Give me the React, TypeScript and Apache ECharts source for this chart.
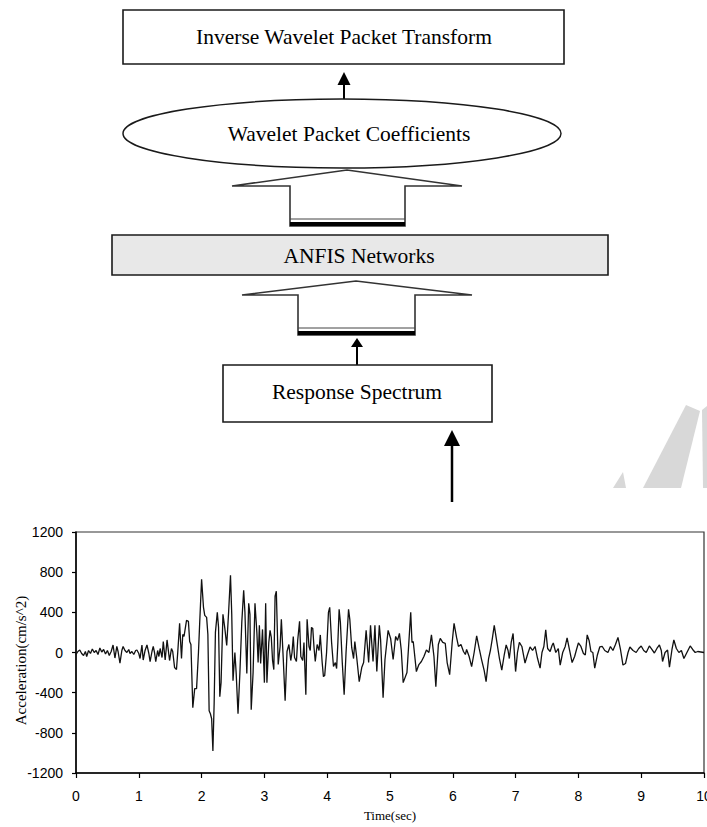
import React, { useEffect, useRef } from "react";
import * as echarts from "echarts";

// ---- Data (time in sec, acceleration in cm/s^2) ----
const preEventRecord: [number, number][] = [
  [0.0, -20], [0.03, 10], [0.06, 25], [0.09, -10], [0.12, -30], [0.15, 10], [0.17, -40],
  [0.2, 20], [0.23, -10], [0.26, 35], [0.29, 0], [0.32, 20], [0.35, -20], [0.38, 45],
  [0.41, 5], [0.44, 30], [0.47, -15], [0.5, 20], [0.53, -30], [0.56, 10], [0.59, 75],
  [0.62, -55], [0.65, 60], [0.67, 10], [0.7, -105], [0.73, 20], [0.75, 60], [0.78, 20],
  [0.81, 0], [0.84, 30], [0.86, -10], [0.89, 10], [0.92, -20], [0.95, 20], [0.97, 25],
  [1.0, -10], [1.02, -60], [1.05, 75], [1.07, -75], [1.1, 20], [1.13, 75], [1.16, -10],
  [1.18, -90], [1.21, 10], [1.23, 60], [1.25, 0], [1.27, -90], [1.3, 20], [1.32, -40],
  [1.34, 40], [1.37, -50], [1.39, 110], [1.42, -75], [1.45, 125], [1.49, -80], [1.52, 40],
  [1.54, 10], [1.57, -150], [1.6, -170], [1.62, 0],
];

const strongMotionRecord: [number, number][] = [
  [1.65, 290], [1.68, -60], [1.7, 180], [1.72, 160], [1.76, 320], [1.79, 310], [1.81, 110],
  [1.83, 80], [1.86, -550], [1.89, -360], [1.92, -360], [1.95, 0], [1.97, 300], [2.0, 730],
  [2.03, 450], [2.05, 370], [2.08, 350], [2.1, 180], [2.12, -580], [2.14, -610], [2.16, -660],
  [2.18, -980], [2.2, -500], [2.22, 200], [2.25, 400], [2.27, 250], [2.29, -440], [2.31, -300],
  [2.34, 380], [2.37, 240], [2.4, 70], [2.43, 400], [2.46, 770], [2.48, 380], [2.5, -280],
  [2.53, 0], [2.55, -200], [2.58, -610], [2.61, -200], [2.64, 300], [2.67, 620], [2.69, 400],
  [2.72, -210], [2.75, 490], [2.77, 380], [2.79, -570], [2.82, -200], [2.85, 490], [2.88, 200],
  [2.9, -100], [2.92, 270], [2.94, -110], [2.97, 230], [3.0, -300], [3.02, 490], [3.04, -300],
  [3.07, 100], [3.09, 220], [3.11, 150], [3.13, -80], [3.15, -170], [3.17, 560], [3.19, 610],
  [3.22, -120], [3.25, 60], [3.27, 330], [3.3, -60], [3.33, -480], [3.36, 10], [3.39, 80],
  [3.42, -80], [3.44, 0], [3.46, 160], [3.48, -50], [3.51, -90], [3.53, 120], [3.56, 310],
  [3.58, -40], [3.61, -80], [3.63, 100], [3.66, -420], [3.68, 330], [3.71, 60], [3.73, 20],
  [3.75, 250], [3.77, 240], [3.79, 50], [3.81, -90], [3.84, 80], [3.87, 20], [3.89, 175],
  [3.92, -100], [3.94, -240], [3.96, -230], [3.99, 0], [4.02, 400], [4.04, 450], [4.07, 100],
  [4.1, -140], [4.13, -100], [4.15, -160], [4.17, 100], [4.19, 430], [4.21, 300], [4.24, -100],
  [4.27, -420], [4.3, 0], [4.34, 430], [4.36, 330], [4.39, 50], [4.42, -60], [4.44, 110],
  [4.47, -50], [4.51, -290], [4.55, -150], [4.58, -100], [4.62, 220], [4.66, -100], [4.69, 270],
  [4.73, -90], [4.76, 270], [4.79, -190], [4.83, 270], [4.85, 130], [4.89, -450], [4.92, -70],
  [4.97, 220],
];

const codaRecord: [number, number][] = [
  [5.01, 140], [5.05, -70], [5.09, 160], [5.12, 120], [5.15, 190], [5.18, 20], [5.21, -300],
  [5.27, -200], [5.3, 100], [5.33, 400], [5.35, 100], [5.37, 110], [5.42, -190], [5.46, -120],
  [5.5, -90], [5.54, -40], [5.58, 25], [5.62, 0], [5.66, 175], [5.7, -40], [5.73, -340],
  [5.77, 80], [5.8, 140], [5.84, 100], [5.88, 90], [5.91, -100], [5.95, -220], [5.99, 100],
  [6.02, 290], [6.06, 150], [6.09, 60], [6.13, 80], [6.17, 10], [6.2, -20], [6.22, 30],
  [6.26, -40], [6.3, -140], [6.34, 0], [6.38, 165], [6.42, 40], [6.46, -75], [6.5, -180],
  [6.53, -290], [6.57, -60], [6.6, 25], [6.63, 140], [6.66, 270], [6.7, 110], [6.74, -50],
  [6.78, -175], [6.82, -20], [6.85, 75], [6.88, 20], [6.9, -60], [6.93, 100], [6.96, 190],
  [7.0, -190], [7.03, 0], [7.06, 100], [7.1, 60], [7.15, -105], [7.19, -20], [7.23, 55],
  [7.27, 20], [7.31, 60], [7.35, -60], [7.39, -155], [7.42, 0], [7.45, 60], [7.48, 225],
  [7.51, 40], [7.55, 10], [7.58, 70], [7.6, 95], [7.64, 0], [7.68, 40], [7.71, -125],
  [7.75, 0], [7.79, 60], [7.82, 145], [7.86, 20], [7.9, -100], [7.94, -40], [7.97, 30],
  [8.0, 95], [8.04, 60], [8.08, -10], [8.11, -25], [8.14, 175], [8.17, 120], [8.2, 10],
  [8.23, 0], [8.26, -155], [8.3, -30], [8.34, 55], [8.38, 60], [8.42, 20], [8.47, 0],
  [8.51, 60], [8.55, 20], [8.59, 80], [8.63, 150], [8.67, 30], [8.71, -125], [8.75, -110],
  [8.79, 0], [8.82, 55], [8.87, 20], [8.92, 0], [8.96, 40], [9.0, 65], [9.04, 20], [9.08, 0],
  [9.13, 65], [9.17, 30], [9.21, -5], [9.25, 40], [9.29, 75], [9.32, 20], [9.34, -90],
  [9.38, 0], [9.42, 25], [9.45, -145], [9.49, 30], [9.52, 125], [9.56, 40], [9.6, 0],
  [9.64, 20], [9.68, -60], [9.72, -10], [9.78, 65], [9.82, 30], [9.86, 0], [9.9, 10],
  [9.95, 5], [10.0, 0],
];

const xAxisTitle = "Time(sec)";
const yAxisTitle = "Acceleration(cm/s^2)";
const diagramLabels = [
  "Inverse Wavelet Packet Transform",
  "Wavelet Packet Coefficients",
  "ANFIS Networks",
  "Response Spectrum",
];

const SERIF = '"Liberation Serif", "Times New Roman", serif';
const SANS = '"Liberation Sans", Arial, sans-serif';
const STROKE = "#1a1a1a";

function label(text: string, x: number, y: number) {
  return {
    type: "text",
    x,
    y,
    z: 10,
    style: {
      text,
      fill: "#000",
      fontSize: 21.5,
      fontFamily: SERIF,
      align: "center",
      verticalAlign: "middle",
    },
  };
}

function arrowHead(x: number, tipY: number, baseY: number, half: number) {
  return {
    type: "polygon",
    z: 10,
    shape: { points: [[x, tipY], [x + half, baseY], [x - half, baseY]] },
    style: { fill: "#000" },
  };
}

function shaft(x: number, y1: number, y2: number, w: number) {
  return {
    type: "line",
    z: 10,
    shape: { x1: x, y1, x2: x, y2 },
    style: { stroke: "#000", lineWidth: w },
  };
}

function blockArrow(
  apexX: number, apexY: number, wingL: number, wingR: number, wingY: number,
  stemL: number, stemR: number, thinY: number, barY: number
) {
  return [
    {
      type: "polygon",
      z: 10,
      shape: {
        points: [
          [wingL, wingY], [apexX, apexY], [wingR, wingY], [stemR, wingY],
          [stemR, barY + 4], [stemL, barY + 4], [stemL, wingY],
        ],
      },
      style: { fill: "#fff", stroke: "#333", lineWidth: 1.6 },
    },
    {
      type: "line",
      z: 11,
      shape: { x1: stemL, y1: thinY, x2: stemR, y2: thinY },
      style: { stroke: "#444", lineWidth: 1 },
    },
    {
      type: "rect",
      z: 11,
      shape: { x: stemL, y: barY, width: stemR - stemL, height: 4 },
      style: { fill: "#000" },
    },
  ];
}

export default function App() {
  const ref = useRef<HTMLDivElement>(null);

  useEffect(() => {
    if (!ref.current) return;
    const chart = echarts.init(ref.current, undefined, { renderer: "svg" });
    const record = [...preEventRecord, ...strongMotionRecord, ...codaRecord];

    const graphics: any[] = [
      // watermark fragments
      {
        type: "polygon",
        z: 1,
        shape: { points: [[686, 405], [700, 411], [681, 488], [643, 488]] },
        style: { fill: "#d8d8d8" },
      },
      {
        type: "polygon",
        z: 1,
        shape: { points: [[702, 410], [707, 406], [707, 488], [703, 488]] },
        style: { fill: "#d8d8d8" },
      },
      {
        type: "polygon",
        z: 1,
        shape: { points: [[613, 488], [626, 488], [623, 472]] },
        style: { fill: "#d8d8d8" },
      },
      // Box 1
      {
        type: "rect",
        z: 10,
        shape: { x: 123, y: 10, width: 441, height: 54 },
        style: { fill: "#fff", stroke: STROKE, lineWidth: 1.6 },
      },
      label(diagramLabels[0], 344, 37),
      shaft(344, 84, 100, 2),
      arrowHead(344, 72, 85, 6.5),
      {
        type: "ellipse",
        z: 10,
        shape: { cx: 342, cy: 133.5, rx: 219, ry: 34.5 },
        style: { fill: "#fff", stroke: STROKE, lineWidth: 1.5 },
      },
      label(diagramLabels[1], 349, 134),
      ...blockArrow(347, 170, 232, 462, 186, 290, 405, 219, 222),
      {
        type: "rect",
        z: 10,
        shape: { x: 112, y: 235, width: 496, height: 40 },
        style: { fill: "#e8e8e8", stroke: STROKE, lineWidth: 1.6 },
      },
      label(diagramLabels[2], 359, 256),
      ...blockArrow(356, 281, 242, 472, 295, 298, 415, 328, 331),
      shaft(357, 345, 365, 2),
      arrowHead(357, 338, 347, 6),
      {
        type: "rect",
        z: 10,
        shape: { x: 223, y: 365, width: 269, height: 57 },
        style: { fill: "#fff", stroke: STROKE, lineWidth: 1.6 },
      },
      label(diagramLabels[3], 357, 392),
      shaft(452, 444, 502, 2.5),
      arrowHead(452, 430, 446, 8),
    ];

    chart.setOption({
      animation: false,
      backgroundColor: "#fff",
      grid: {
        left: 76,
        top: 532,
        width: 628,
        height: 241,
        show: true,
        borderColor: "#333",
        borderWidth: 1.2,
        backgroundColor: "transparent",
        containLabel: false,
        outerBoundsMode: "none",
      },
      xAxis: {
        type: "value",
        min: 0,
        max: 10,
        interval: 1,
        name: xAxisTitle,
        nameLocation: "middle",
        nameGap: 36,
        nameMoveOverlap: false,
        nameTextStyle: { fontFamily: SERIF, fontSize: 13, color: "#000" },
        axisLine: { show: true, onZero: false, lineStyle: { color: "#000", width: 1.5 } },
        axisTick: { show: true, inside: false, length: 5, lineStyle: { color: "#000", width: 1.2 } },
        splitLine: { show: false },
        axisLabel: {
          color: "#000",
          fontFamily: SANS,
          fontSize: 14,
          margin: 16,
          formatter: (v: number) => String(v),
        },
      },
      yAxis: {
        type: "value",
        min: -1200,
        max: 1200,
        interval: 400,
        name: yAxisTitle,
        nameLocation: "middle",
        nameGap: 48,
        nameRotate: 90,
        nameMoveOverlap: false,
        nameTextStyle: { fontFamily: SERIF, fontSize: 15, color: "#000", padding: [0, 16, 0, 0] },
        axisLine: { show: true, onZero: false, lineStyle: { color: "#000", width: 1.5 } },
        axisTick: { show: true, inside: false, length: 4, lineStyle: { color: "#000", width: 1.2 } },
        splitLine: { show: false },
        axisLabel: {
          color: "#000",
          fontFamily: SANS,
          fontSize: 14,
          margin: 13,
          formatter: (v: number) => String(v),
        },
      },
      series: [
        {
          type: "line",
          data: record,
          showSymbol: false,
          symbol: "none",
          silent: true,
          lineStyle: { color: "#111", width: 1.3 },
        },
      ],
      graphic: graphics,
    });

    return () => chart.dispose();
  }, []);

  return (
    <div
      ref={ref}
      style={{ position: "absolute", left: 0, top: 0, width: 707, height: 827, background: "#fff" }}
    />
  );
}
